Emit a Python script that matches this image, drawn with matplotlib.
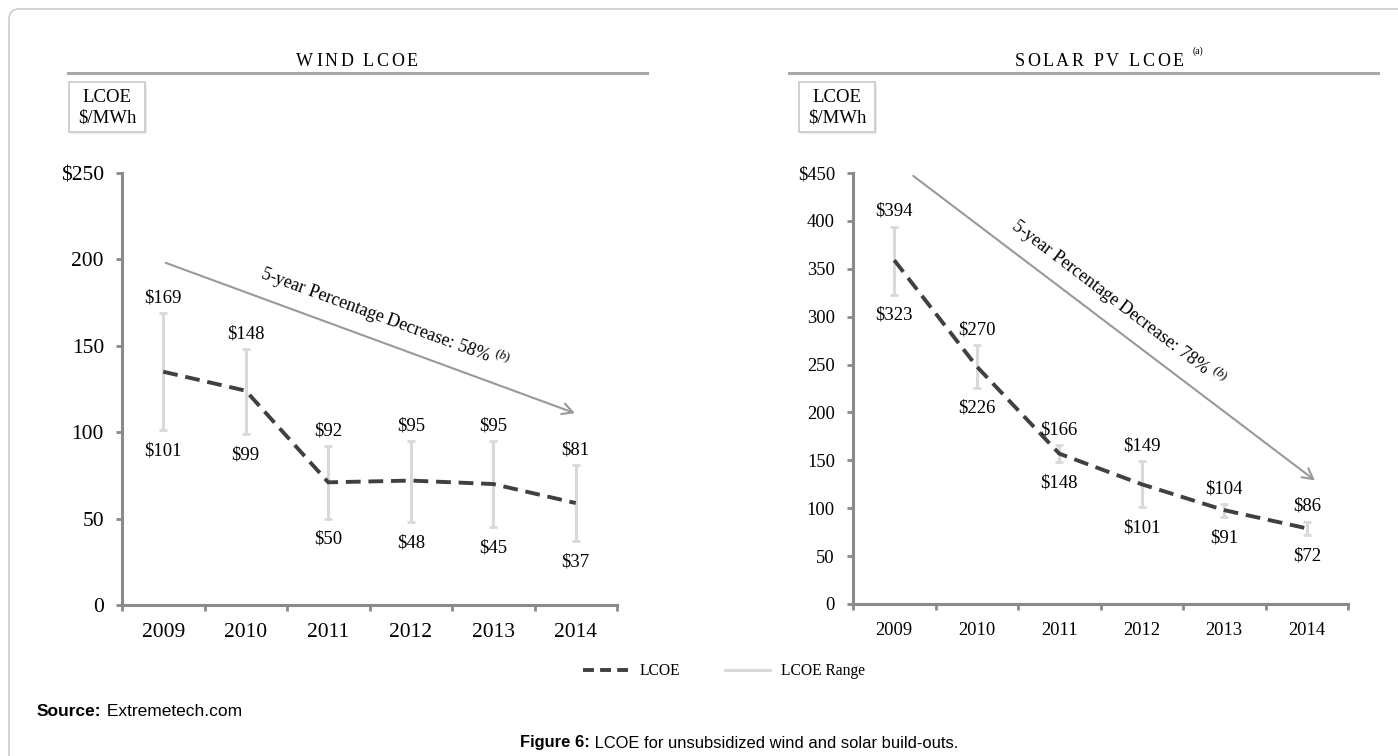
import math
import matplotlib
matplotlib.use("Agg")
import matplotlib.pyplot as plt
from matplotlib.lines import Line2D
from matplotlib.patches import Rectangle, FancyBboxPatch
from matplotlib.transforms import IdentityTransform
from matplotlib.font_manager import FontProperties

# ---- data -------------------------------------------------------------
years = ["2009", "2010", "2011", "2012", "2013", "2014"]

wind_high = [169, 148, 92, 95, 95, 81]
wind_low = [101, 99, 50, 48, 45, 37]
wind_lcoe = [135, 124, 71, 72, 70, 59]

solar_high = [394, 270, 166, 149, 104, 86]
solar_low = [323, 226, 148, 101, 91, 72]
solar_lcoe = [359, 248, 157, 125, 98, 79]

wind_yticks = [0, 50, 100, 150, 200, 250]
wind_yticklabels = ["0", "50", "100", "150", "200", "$250"]
solar_yticks = [0, 50, 100, 150, 200, 250, 300, 350, 400, 450]
solar_yticklabels = ["0", "50", "100", "150", "200", "250", "300", "350", "400", "$450"]

# trend arrows: (x, value) start and end
wind_trend = [(0.03, 198), (4.99, 111)]
solar_trend = [(0.23, 447), (5.10, 129)]
wind_trend_text = "5-year Percentage Decrease: 58% $^{\\mathit{(b)}}$"
solar_trend_text = "5-year Percentage Decrease: 78% $^{\\mathit{(b)}}$"

# ---- style ------------------------------------------------------------
SERIF = "Liberation Serif"
SANS = "Liberation Sans"
plt.rcParams["font.family"] = [SERIF, "DejaVu Serif"]
plt.rcParams["mathtext.fontset"] = "custom"
plt.rcParams["mathtext.rm"] = SERIF
plt.rcParams["mathtext.it"] = SERIF + ":italic"

AXIS_GREY = "#8a8a8a"
RANGE_GREY = "#d9d9d9"
LCOE_DARK = "#404040"
TREND_GREY = "#999999"
DASH = (0, (3.8, 2.0))
LEGEND_DASH = (0, (2.8, 1.6))

W, H = 1398, 756
fig = plt.figure(figsize=(W / 100, H / 100), dpi=100)
fig.patch.set_facecolor("white")


def fx(px):
    return px / W


def fy(py):
    return 1 - py / H


PIX = IdentityTransform()
renderer = fig.canvas.get_renderer()


def text_width(s, prop):
    if s.strip() == "":
        return prop.get_size_in_points() * 100 / 72 * 0.25 * len(s)
    w, _, _ = renderer.get_text_width_height_descent(s, prop, ismath=False)
    return w


def tracked_text(cx, cy, s, size, track):
    prop = FontProperties(family=SERIF, size=size)
    widths = [text_width(ch, prop) for ch in s]
    total = sum(widths) + track * (len(s) - 1)
    x = cx - total / 2
    for ch, w in zip(s, widths):
        if ch != " ":
            fig.text(x, H - cy, ch, fontproperties=prop, transform=PIX,
                     ha="left", va="center")
        x += w + track
    return cx + total / 2


def run_text(x0, cy, pieces, align="left"):
    props = [FontProperties(family=SANS, size=sz, weight=wt) for _, sz, wt in pieces]
    widths = [text_width(s, p) for (s, _, _), p in zip(pieces, props)]
    x = x0 - (sum(widths) / 2 if align == "center" else 0)
    for (s, _, _), p, w in zip(pieces, props, widths):
        fig.text(x, H - cy, s, fontproperties=p, transform=PIX, ha="left", va="center")
        x += w


# outer rounded frame
frame = FancyBboxPatch((9, -40), W + 40, H - 9 + 40,
                       boxstyle="round,pad=0,rounding_size=10",
                       transform=PIX, facecolor="none", edgecolor="#c4c4c4", lw=1.0)
fig.patches.append(frame)


def unit_box(x0, x1):
    fig.patches.append(Rectangle((fx(x0) + 0.0012, fy(132) - 0.002), fx(x1) - fx(x0), (132 - 82) / H,
                                 transform=fig.transFigure, facecolor="#ececec",
                                 edgecolor="none", zorder=0))
    fig.patches.append(Rectangle((fx(x0), fy(132)), fx(x1) - fx(x0), (132 - 82) / H,
                                 transform=fig.transFigure, facecolor="white",
                                 edgecolor="#c8c8c8", lw=1.2, zorder=1))
    cx = (x0 + x1) / 2
    fig.text(fx(cx), fy(98), "LCOE", ha="center", va="center", fontsize=13.5, zorder=2)
    fig.text(fx(cx), fy(118), "$/MWh", ha="center", va="center", fontsize=13.5, zorder=2)


def header(x0, x1, title, cx):
    fig.add_artist(Line2D([fx(x0), fx(x1)], [fy(73), fy(73)], transform=fig.transFigure,
                          color="#a8a8a8", lw=2.2))
    return tracked_text(cx, 61, title, 13, 2.6)


def panel(ax, high, low, lcoe, yticks, yticklabels, ymax, ticksize, trend, trend_text,
          text_pos):
    x = list(range(len(years)))
    ax.set_xlim(-0.5, len(years) - 0.5)
    ax.set_ylim(0, ymax)
    for side in ("top", "right"):
        ax.spines[side].set_visible(False)
    for side in ("left", "bottom"):
        ax.spines[side].set_color(AXIS_GREY)
        ax.spines[side].set_linewidth(2.2)
    ax.set_xticks(x)
    ax.set_xticklabels(years, fontsize=ticksize)
    ax.set_xticks([i - 0.5 for i in range(len(years) + 1)], minor=True)
    ax.tick_params(axis="x", which="major", length=0, pad=13)
    ax.tick_params(axis="x", which="minor", length=4, width=2, color=AXIS_GREY, direction="out")
    ax.set_yticks(yticks)
    ax.set_yticklabels(yticklabels, fontsize=ticksize)
    ax.tick_params(axis="y", length=4, width=2, color=AXIS_GREY, direction="out", pad=9)
    ax.patch.set_alpha(0)

    ax.errorbar(x, lcoe, yerr=[[m - l for m, l in zip(lcoe, low)],
                               [h - m for m, h in zip(lcoe, high)]],
                fmt="none", ecolor=RANGE_GREY, elinewidth=2.2, capsize=3.2,
                capthick=2.0, zorder=2)
    ax.plot(x, lcoe, color=LCOE_DARK, lw=2.8, ls=DASH, zorder=3)

    for i, (h, l) in enumerate(zip(high, low)):
        ax.annotate(f"${h}", (i, h), xytext=(0, 11), textcoords="offset points",
                    ha="center", va="center", fontsize=13.5)
        ax.annotate(f"${l}", (i, l), xytext=(0, -15), textcoords="offset points",
                    ha="center", va="center", fontsize=13.5)

    (x0, y0), (x1, y1) = trend
    ax.annotate("", xy=(x1, y1), xytext=(x0, y0),
                arrowprops=dict(arrowstyle="->,head_length=0.75,head_width=0.4",
                                color=TREND_GREY, lw=1.5, shrinkA=0, shrinkB=0),
                annotation_clip=False)
    p0 = ax.transData.transform((x0, y0))
    p1 = ax.transData.transform((x1, y1))
    ang = math.degrees(math.atan2(p1[1] - p0[1], p1[0] - p0[0]))
    ax.text(text_pos[0], text_pos[1], trend_text, rotation=ang, rotation_mode="anchor",
            ha="center", va="center", fontsize=13, clip_on=False)


# ---- wind -------------------------------------------------------------
header(68, 647, "WIND LCOE", 357)
unit_box(69, 145)
ax_w = fig.add_axes([fx(122), fy(605), fx(617) - fx(122), (605 - 173) / H])
panel(ax_w, wind_high, wind_low, wind_lcoe, wind_yticks, wind_yticklabels, 250, 15.5,
      wind_trend, wind_trend_text, (2.69, 166))

# ---- solar ------------------------------------------------------------
end = header(789, 1378, "SOLAR PV LCOE", 1099)
fig.text(fx(end + 14), fy(51), "(a)", ha="center", va="center", fontsize=7)
unit_box(799, 875)
ax_s = fig.add_axes([fx(853), fy(604), fx(1348) - fx(853), (604 - 173) / H])
panel(ax_s, solar_high, solar_low, solar_lcoe, solar_yticks, solar_yticklabels, 450, 13.3,
      solar_trend, solar_trend_text, (2.71, 314))

# ---- legend, source, caption -----------------------------------------
handles = [Line2D([], [], color=LCOE_DARK, lw=2.8, ls=LEGEND_DASH),
           Line2D([], [], color=RANGE_GREY, lw=2.2)]
fig.legend(handles, ["LCOE", "LCOE Range"], loc="center", bbox_to_anchor=(fx(724), fy(671)),
           ncol=2, frameon=False, handlelength=2.9, handletextpad=0.7, columnspacing=2.9,
           prop=FontProperties(family=SERIF, size=11.2))

run_text(37, 712, [("Source:", 12.5, "bold"), (" Extremetech.com", 12.5, "normal")])
run_text(739, 743, [("Figure 6:", 11.9, "bold"),
                    (" LCOE for unsubsidized wind and solar build-outs.", 11.9, "normal")],
         align="center")

fig.savefig("out.png", dpi=100, facecolor="white")
